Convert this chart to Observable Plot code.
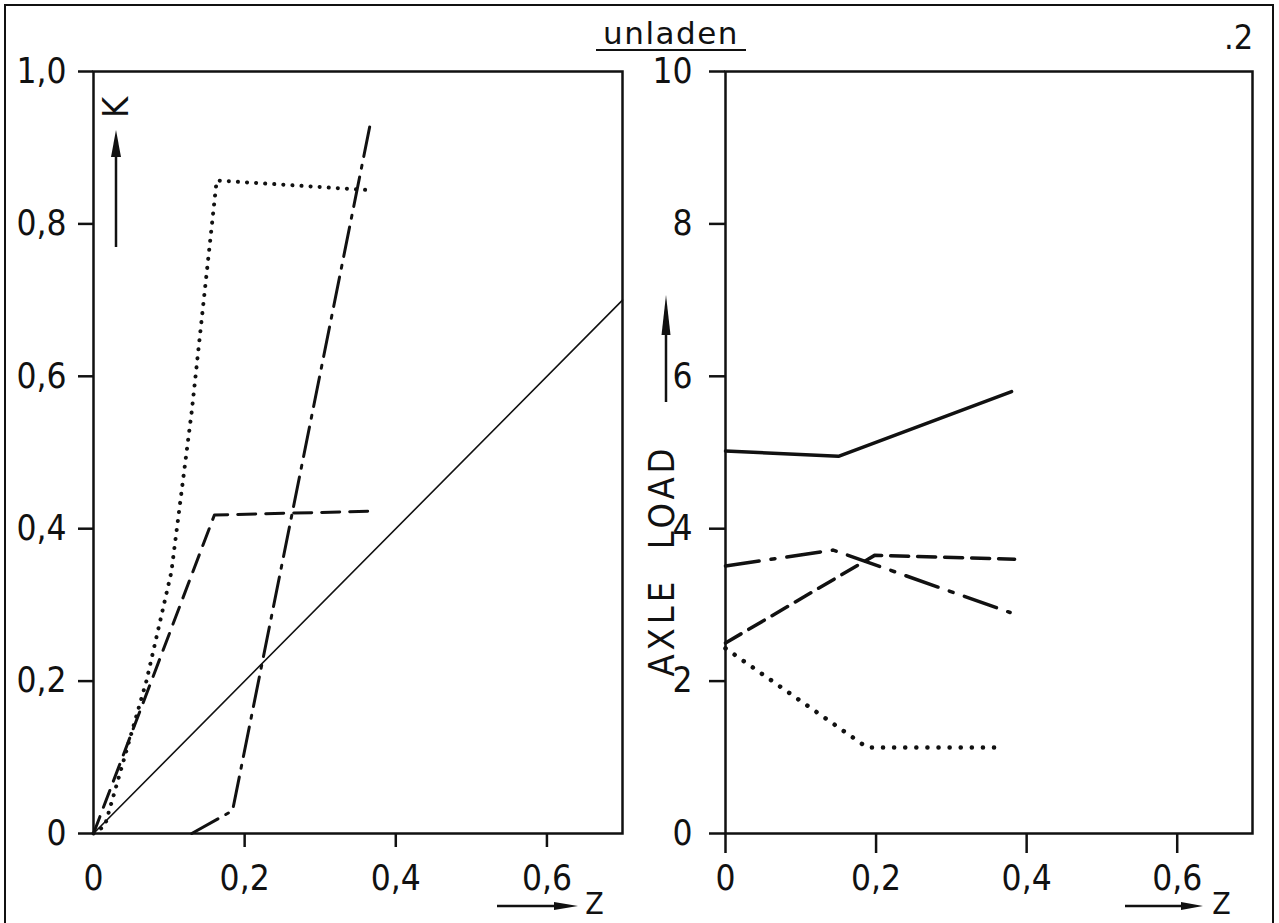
<!DOCTYPE html>
<html>
<head>
<meta charset="utf-8">
<script src="https://cdn.jsdelivr.net/npm/d3@7"></script>
<script src="https://cdn.jsdelivr.net/npm/@observablehq/plot@0.6"></script>
<style>
  html, body { margin: 0; padding: 0; background: #fff; }
  #fig { position: relative; width: 1279px; height: 923px; overflow: hidden; background: #fff;
         font-family: "DejaVu Sans Condensed", "DejaVu Sans", sans-serif; color: #111; }
  #border { position: absolute; left: 4px; top: 4px; width: 1270px; height: 960px;
            border: 2.5px solid #111; box-sizing: border-box; }
  #title { position: absolute; left: 596px; top: 18px; width: 150px; text-align: center;
           font-family: "DejaVu Sans", sans-serif; font-size: 31px; letter-spacing: 1.5px;
           line-height: 31px; border-bottom: 2.5px solid #111; padding-bottom: 0px; }
  #num { position: absolute; left: 1224px; top: 18px; font-size: 34px; line-height: 38px; }
  .panel { position: absolute; top: 0; }
</style>
</head>
<body>
<div id="fig">
  <div id="border"></div>
  <div id="title">unladen</div>
  <div id="num">.2</div>
  <div id="left" class="panel" style="left:0px"></div>
  <div id="right" class="panel" style="left:640px"></div>
</div>
<script>
// ---- tick values and labels ----
const zTicks = [0, 0.2, 0.4, 0.6];
const zTickLabels = ["0", "0,2", "0,4", "0,6"];
const kTicks = [0, 0.2, 0.4, 0.6, 0.8, 1.0];
const kTickLabels = ["0", "0,2", "0,4", "0,6", "0,8", "1,0"];
const loadTicks = [0, 2, 4, 6, 8, 10];
const loadTickLabels = ["0", "2", "4", "6", "8", "10"];

// ---- left panel: K vs Z ----
const kSolidZ   = [0, 0.7];
const kSolidK   = [0, 0.7];
const kDottedZ  = [0, 0.015, 0.07, 0.103, 0.13, 0.163, 0.37];
const kDottedK  = [0, 0.01, 0.2, 0.343, 0.554, 0.857, 0.844];
const kDashedZ  = [0, 0.16, 0.369];
const kDashedK  = [0, 0.418, 0.423];
const kDashDotZ = [0.13, 0.184, 0.366];
const kDashDotK = [0, 0.03, 0.93];

// ---- right panel: AXLE LOAD vs Z ----
const loadSolidZ   = [0, 0.15, 0.38];
const loadSolid    = [5.02, 4.95, 5.8];
const loadDashDotZ = [0, 0.143, 0.378];
const loadDashDot  = [3.51, 3.72, 2.90];
const loadDashedZ  = [0, 0.198, 0.384];
const loadDashed   = [2.50, 3.65, 3.60];
const loadDottedZ  = [0, 0.188, 0.362];
const loadDotted   = [2.43, 1.13, 1.13];

const rows = (zs, vs) => zs.map((z, i) => ({z, v: vs[i]}));
const fmt = (ticks, labels) => d => labels[ticks.indexOf(d)];
const FONT = '"DejaVu Sans Condensed", "DejaVu Sans", sans-serif';
const INK = "#111";
const TF = 35;

const left = Plot.plot({
  width: 640, height: 923,
  marginLeft: 93, marginRight: 18, marginTop: 71, marginBottom: 90,
  x: {domain: [0, 0.7]},
  y: {domain: [0, 1]},
  style: {fontFamily: FONT, color: INK, background: "transparent", overflow: "visible"},
  marks: [
    Plot.frame({stroke: INK, strokeWidth: 2.5}),
    Plot.axisY(kTicks, {tickSize: 15, tickPadding: 12, tickFormat: fmt(kTicks, kTickLabels),
      fontSize: TF, strokeWidth: 2.5, label: null}),
    Plot.axisX(zTicks.slice(1), {tickSize: 14, tickPadding: 18, tickFormat: fmt(zTicks, zTickLabels),
      fontSize: TF, strokeWidth: 2.5, label: null}),
    Plot.axisX(zTicks.slice(0, 1), {tickSize: 0, tickPadding: 32, tickFormat: fmt(zTicks, zTickLabels),
      fontSize: TF, label: null}),
    Plot.line(rows(kSolidZ, kSolidK), {x: "z", y: "v", stroke: INK, strokeWidth: 1.6}),
    Plot.line(rows(kDottedZ, kDottedK), {x: "z", y: "v", stroke: INK, strokeWidth: 4,
      strokeDasharray: "0.1,9", strokeLinecap: "round"}),
    Plot.line(rows(kDashedZ, kDashedK), {x: "z", y: "v", stroke: INK, strokeWidth: 3,
      strokeDasharray: "18,10"}),
    Plot.line(rows(kDashDotZ, kDashDotK), {x: "z", y: "v", stroke: INK, strokeWidth: 3,
      strokeDasharray: "30,9,3,9"}),
    Plot.text(["K"], {frameAnchor: "top-left", textAnchor: "middle", lineAnchor: "middle",
      dx: 23, dy: 36, rotate: -90, fontSize: 36, fill: INK}),
    Plot.text(["Z"], {frameAnchor: "bottom-right", textAnchor: "middle", lineAnchor: "middle",
      dx: -28, dy: 71, fontSize: 30, fill: INK})
  ]
});

const right = Plot.plot({
  width: 639, height: 923,
  marginLeft: 85, marginRight: 27, marginTop: 71, marginBottom: 90,
  x: {domain: [0, 0.7]},
  y: {domain: [0, 10]},
  style: {fontFamily: FONT, color: INK, background: "transparent", overflow: "visible"},
  marks: [
    Plot.frame({stroke: INK, strokeWidth: 2.5}),
    Plot.axisY(loadTicks, {tickSize: 16, tickPadding: 17, tickFormat: fmt(loadTicks, loadTickLabels),
      fontSize: TF, strokeWidth: 2.5, label: null}),
    Plot.axisX(zTicks, {tickSize: 20, tickPadding: 12, tickFormat: fmt(zTicks, zTickLabels),
      fontSize: TF, strokeWidth: 2.5, label: null}),
    Plot.line(rows(loadSolidZ, loadSolid), {x: "z", y: "v", stroke: INK, strokeWidth: 3.5}),
    Plot.line(rows(loadDashDotZ, loadDashDot), {x: "z", y: "v", stroke: INK, strokeWidth: 3.5,
      strokeDasharray: "34,12,4,12"}),
    Plot.line(rows(loadDashedZ, loadDashed), {x: "z", y: "v", stroke: INK, strokeWidth: 3.5,
      strokeDasharray: "18,9"}),
    Plot.line(rows(loadDottedZ, loadDotted), {x: "z", y: "v", stroke: INK, strokeWidth: 4.5,
      strokeDasharray: "0.1,11", strokeLinecap: "round"}),
    Plot.text(["AXLE  LOAD"], {frameAnchor: "left", textAnchor: "middle", lineAnchor: "middle",
      dx: -63, dy: 108, rotate: -90, fontSize: 36, fill: INK}),
    Plot.text(["Z"], {frameAnchor: "bottom-right", textAnchor: "middle", lineAnchor: "middle",
      dx: -31, dy: 71, fontSize: 30, fill: INK})
  ]
});

document.getElementById("left").append(left);
document.getElementById("right").append(right);

d3.select(right).selectAll("text")
  .filter(function() { return this.textContent.includes("AXLE"); })
  .style("letter-spacing", "4px");

// annotation arrows (axis-label arrows)
function arrow(svg, x1, y1, x2, y2, headLen, headW) {
  const s = d3.select(svg);
  const dx = x2 - x1, dy = y2 - y1, L = Math.hypot(dx, dy);
  const ux = dx / L, uy = dy / L;
  const bx = x2 - ux * headLen, by = y2 - uy * headLen;
  s.append("line").attr("x1", x1).attr("y1", y1).attr("x2", bx + ux * 2).attr("y2", by + uy * 2)
    .attr("stroke", INK).attr("stroke-width", 2.5);
  s.append("path")
    .attr("d", `M${x2},${y2}L${bx - uy * headW / 2},${by + ux * headW / 2}L${bx + uy * headW / 2},${by - ux * headW / 2}Z`)
    .attr("fill", INK);
}
arrow(left, 116, 247, 116, 130, 27, 10);
arrow(left, 497, 906, 578, 906, 24, 8);
arrow(right, 26, 402, 26, 295, 40, 9);
arrow(right, 485, 906, 563, 906, 22, 8);
</script>
</body>
</html>
